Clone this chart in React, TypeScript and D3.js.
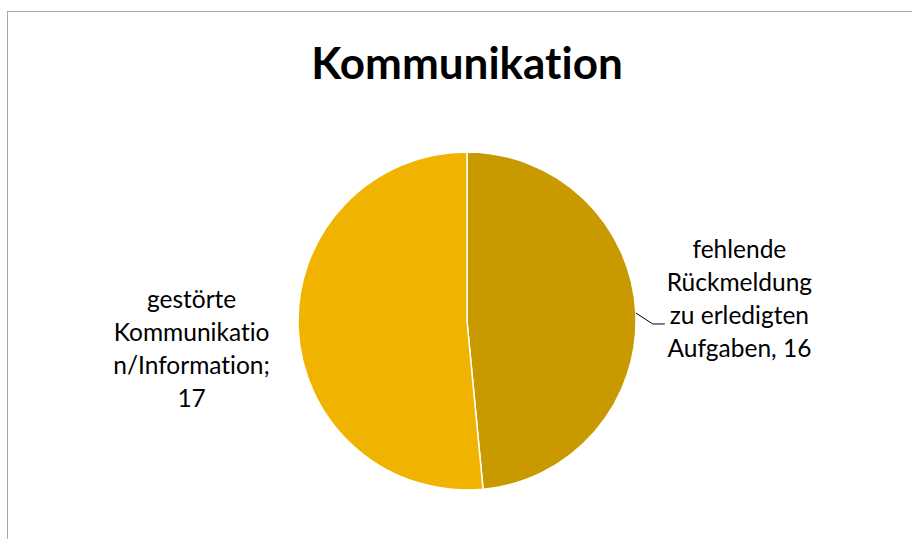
import * as d3 from "d3";
import { useEffect, useRef } from "react";

// Data
const categories = [
    "fehlende Rückmeldung zu erledigten Aufgaben",
    "gestörte Kommunikation/Information",
];
const values = [16, 17];
const colors = ["#C99A00", "#F0B400"];
// label text as Excel wrapped it
const labelLines = [
    ["fehlende", "Rückmeldung", "zu erledigten", "Aufgaben, 16"],
    ["gestörte", "Kommunikatio", "n/Information;", "17"],
];
const title = "Kommunikation";

interface Slice {
    name: string;
    value: number;
    color: string;
    lines: string[];
}

export default function App() {
    const svgRef = useRef<SVGSVGElement | null>(null);

    useEffect(() => {
        if (!svgRef.current) return;
        const svgElement = d3.select(svgRef.current);
        svgElement.selectAll("*").remove();

        const width = 912;
        const height = 539;
        const cx = 467;
        const cy = 321;
        const radius = 169;
        const font = "Lato, 'Open Sans', sans-serif";

        const data: Slice[] = categories.map((c, i) => ({
            name: c,
            value: values[i],
            color: colors[i],
            lines: labelLines[i],
        }));

        const svg = svgElement.attr("width", width).attr("height", height);

        svg.append("rect")
            .attr("width", width)
            .attr("height", height)
            .attr("fill", "white");

        // chart area border (cut off at right and bottom)
        svg.append("rect")
            .attr("x", 7.5)
            .attr("y", 11.5)
            .attr("width", width + 20)
            .attr("height", height + 20)
            .attr("fill", "none")
            .attr("stroke", "#a6a6a6")
            .attr("stroke-width", 1);

        svg.append("text")
            .attr("x", cx)
            .attr("y", 79)
            .attr("text-anchor", "middle")
            .attr("font-family", font)
            .attr("font-weight", "bold")
            .attr("font-size", 44)
            .style("font-variant-ligatures", "none")
            .attr("fill", "#000")
            .text(title);

        const pie = d3.pie<Slice>()
            .sort(null)
            .value((d) => d.value);

        const arc = d3.arc<d3.PieArcDatum<Slice>>()
            .innerRadius(0)
            .outerRadius(radius);

        const g = svg.append("g").attr("transform", `translate(${cx},${cy})`);
        const arcs = pie(data);

        g.selectAll("path")
            .data(arcs)
            .enter()
            .append("path")
            .attr("d", arc)
            .attr("fill", (d) => d.data.color)
            .attr("stroke", "white")
            .attr("stroke-width", 1.5);

        // labels
        const labelRadius = radius * 1.59;
        const lineHeight = 33;
        const nudge = [
            { dx: 4, dy: -50 },
            { dx: -7, dy: -26 },
        ];

        arcs.forEach((a, i) => {
            const mid = (a.startAngle + a.endAngle) / 2;
            const lx = Math.sin(mid) * labelRadius + nudge[i].dx;
            const ly = -Math.cos(mid) * labelRadius + nudge[i].dy;
            const text = g.append("text")
                .attr("text-anchor", "middle")
                .attr("font-family", font)
                .attr("font-size", 24.5)
                .style("font-variant-ligatures", "none")
                .attr("fill", "#000");
            a.data.lines.forEach((line, j) => {
                text.append("tspan")
                    .attr("x", lx)
                    .attr("y", ly + j * lineHeight)
                    .text(line);
            });
        });

        // leader line for the right slice
        const a0 = arcs[0];
        const mid0 = (a0.startAngle + a0.endAngle) / 2;
        const sx = Math.sin(mid0) * radius;
        const sy = -Math.cos(mid0) * radius;
        g.append("polyline")
            .attr("points", `${sx},${sy} ${sx + 17},${sy + 11} ${sx + 29},${sy + 11}`)
            .attr("fill", "none")
            .attr("stroke", "#000")
            .attr("stroke-width", 1);
    }, []);

    return (
        <div style={{ position: "absolute", left: 0, top: 0 }}>
            <svg ref={svgRef} style={{ display: "block" }} />
        </div>
    );
}
